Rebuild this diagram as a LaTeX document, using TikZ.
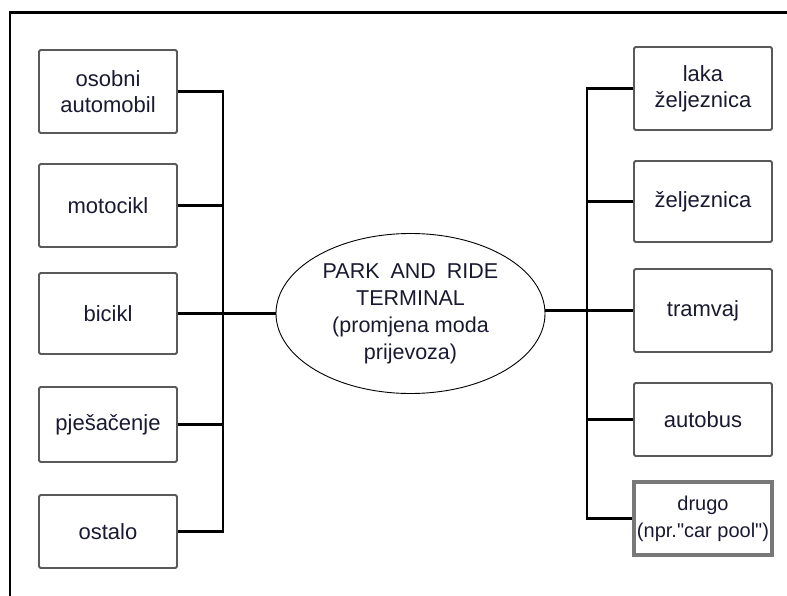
\documentclass[tikz,border=0pt]{standalone}
\usepackage{fontspec}
\setmainfont{Liberation Sans}
\usetikzlibrary{shapes.geometric}
\definecolor{txt}{RGB}{25,25,50}
\definecolor{boxline}{RGB}{90,90,90}
\begin{document}
\begin{tikzpicture}[x=1pt,y=-1pt,
  modebox/.style={draw=boxline, line width=1.8pt, rounded corners=1.5pt, minimum width=138pt, inner sep=0pt, align=center, text=txt, font=\fontsize{22}{26}\selectfont},
  conn/.style={draw=black, line width=2.3pt},
  hub/.style={ellipse, draw=black, line width=0.9pt, minimum width=269pt, minimum height=160pt, inner sep=0pt, align=center, text=txt, font=\fontsize{21.5}{27}\selectfont}]
\useasboundingbox (0,0) rectangle (787,596);
% frame
\draw[line width=2.2pt] (10,597) -- (10,12.5) -- (788,12.5);
% left boxes
\node[modebox, minimum height=83pt] (l1) at (108,91.5) {osobni\\automobil};
\node[modebox, minimum height=83pt] (l2) at (108,205.5) {motocikl};
\node[modebox, minimum height=81pt] (l3) at (108,313.5) {bicikl};
\node[modebox, minimum height=75pt] (l4) at (108,424.5) {pješačenje};
\node[modebox, minimum height=73pt] (l5) at (108,531.5) {ostalo};
% right boxes
\node[modebox, minimum height=83pt] (r1) at (703,88.5) {laka\\željeznica};
\node[modebox, minimum height=81pt] (r2) at (703,201.5) {željeznica};
\node[modebox, minimum height=83pt] (r3) at (703,310.5) {tramvaj};
\node[modebox, minimum height=73pt] (r4) at (703,419.5) {autobus};
\node[modebox, minimum height=73pt, line width=3.5pt, draw={rgb,255:red,120;green,120;blue,120}, rounded corners=0pt, font=\fontsize{20}{27}\selectfont] (r5) at (703,518.5) {drugo\\(npr.\textquotedbl car pool\textquotedbl)};
% hub
\node[hub] (term) at (410.5,313.5) {PARK\hspace{5pt} AND\hspace{5pt} RIDE\\TERMINAL\\(promjena moda\\prijevoza)};
% bus coordinates
\coordinate (busL) at (223,0);
\coordinate (busR) at (587,0);
% left connectors
\draw[conn] (l1.east) -- (l1.east -| busL) -- (l5.east -| busL) -- (l5.east);
\draw[conn] (l2.east) -- (l2.east -| busL);
\draw[conn] (l4.east) -- (l4.east -| busL);
\draw[conn] (l3.east) -- (term.west);
% right connectors
\draw[conn] (r1.west) -- (r1.west -| busR) -- (r5.west -| busR) -- (r5.west);
\draw[conn] (r2.west) -- (r2.west -| busR);
\draw[conn] (r4.west) -- (r4.west -| busR);
\draw[conn] (r3.west -| term.east) -- (r3.west);
\end{tikzpicture}
\end{document}
